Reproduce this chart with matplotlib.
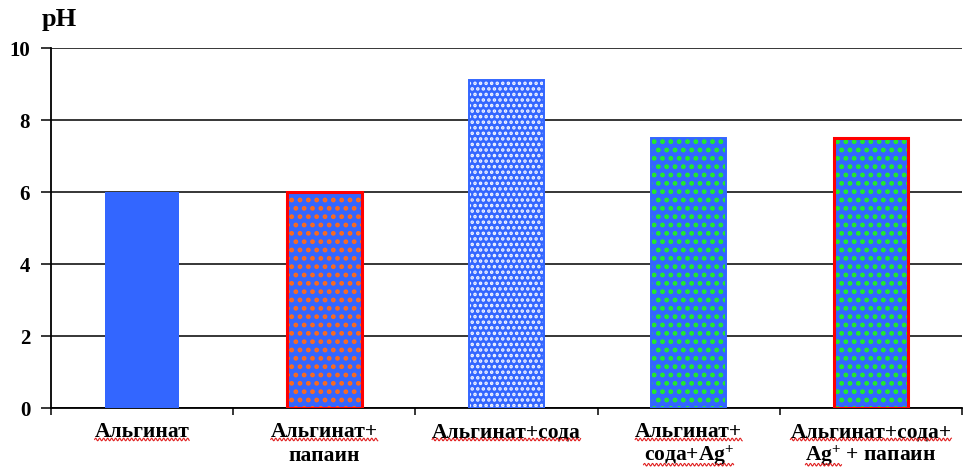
import numpy as np
import matplotlib
matplotlib.use("Agg")
import matplotlib.pyplot as plt
from matplotlib.transforms import IdentityTransform

# Data
line1 = ["Альгинат", "Альгинат+", "Альгинат+сода", "Альгинат+", "Альгинат+сода+"]
line2 = ["", "папаин", "", "сода+Ag$^{+}$", "Ag$^{+}$ + папаин"]
# part of the second line that carries the spell-check underline
line2_marked = ["", "", "", "сода+Ag$^{+}$", "Ag$^{+}$"]
ph_values = [6.0, 6.0, 9.1, 7.5, 7.5]
y_ticks = [0, 2, 4, 6, 8, 10]

blue = "#3366FF"
fills = [blue, blue, blue, blue, blue]
dot_colors = [None, "#FF6A1A", "#F4F6FF", "#22EE22", "#22EE22"]
dot_hatch = [None, "..", "...", "..", ".."]
dot_widths = [0, 2.2, 1.7, 2.2, 2.2]
edge_colors = [blue, "#FF0000", blue, blue, "#FF0000"]
edge_widths = [0, 2.2, 1.4, 1.4, 2.2]

plt.rcParams["font.family"] = ["Liberation Serif", "DejaVu Serif"]
plt.rcParams["mathtext.fontset"] = "custom"
plt.rcParams["mathtext.rm"] = "Liberation Serif:bold"
plt.rcParams["mathtext.it"] = "Liberation Serif:bold"
plt.rcParams["mathtext.bf"] = "Liberation Serif:bold"

fig = plt.figure(figsize=(9.64, 4.68), dpi=100)
ax = fig.add_axes([0.0529, 0.1282, 0.9451, 0.7692])

x = np.arange(len(ph_values))
# base fill with dot texture, then the border on top
for i in range(len(x)):
    if dot_hatch[i]:
        with plt.rc_context({"hatch.linewidth": dot_widths[i]}):
            ax.bar(x[i], ph_values[i], width=0.41, color=fills[i],
                   edgecolor=dot_colors[i], linewidth=0, hatch=dot_hatch[i], zorder=3)
    else:
        ax.bar(x[i], ph_values[i], width=0.41, color=fills[i], linewidth=0, zorder=3)
    if edge_widths[i] > 0:
        ax.bar(x[i], ph_values[i], width=0.41, fill=False,
               edgecolor=edge_colors[i], linewidth=edge_widths[i], zorder=4)

ax.set_xlim(-0.5, len(x) - 0.5)
ax.set_ylim(0, 10)
ax.set_yticks(y_ticks)
ax.set_yticklabels([str(t) for t in y_ticks], fontsize=15, fontweight="bold")
ax.yaxis.grid(True, color="black", linewidth=1.1, zorder=1)
ax.set_axisbelow(True)

ax.set_xticks(np.arange(len(x) + 1) - 0.5)
ax.set_xticklabels([])
ax.tick_params(axis="x", length=5, width=1.1, color="black", direction="out")
ax.tick_params(axis="y", length=7, width=1.1, color="black", direction="out", pad=8)

for s in ["top", "right"]:
    ax.spines[s].set_visible(False)
ax.spines["left"].set_linewidth(1.3)
ax.spines["bottom"].set_linewidth(1.3)

fig.text(0.062, 0.958, "pH", fontsize=19, fontweight="bold", ha="center", va="center")

lab_size = 15.5
lab_kw = dict(fontsize=lab_size, fontweight="bold", ha="center", va="center")
texts_marked = []
for i in range(len(x)):
    t1 = ax.text(x[i], -0.068, line1[i], transform=ax.get_xaxis_transform(), **lab_kw)
    texts_marked.append(t1)
    if line2[i]:
        t2 = ax.text(x[i], -0.132, line2[i], transform=ax.get_xaxis_transform(), **lab_kw)
        if line2_marked[i]:
            if line2_marked[i] == line2[i]:
                texts_marked.append(t2)
            else:
                texts_marked.append((t2, line2_marked[i]))

fig.canvas.draw()
renderer = fig.canvas.get_renderer()


def wavy(x0, x1, y):
    xs = np.arange(x0, x1, 0.5)
    ys = y + 1.3 * np.sin((xs - x0) / 4.0 * 2 * np.pi)
    fig.add_artist(plt.Line2D(xs, ys, color="#E02020", linewidth=0.8,
                              transform=IdentityTransform()))


for item in texts_marked:
    if isinstance(item, tuple):
        t, part = item
        bb = t.get_window_extent(renderer)
        probe = fig.text(0, 0, part, fontsize=lab_size, fontweight="bold")
        pw = probe.get_window_extent(renderer).width
        probe.remove()
        wavy(bb.x0, bb.x0 + pw, bb.y0 + 3)
    else:
        bb = item.get_window_extent(renderer)
        wavy(bb.x0, bb.x1, bb.y0 + 3)

fig.savefig("out.png", dpi=100)
